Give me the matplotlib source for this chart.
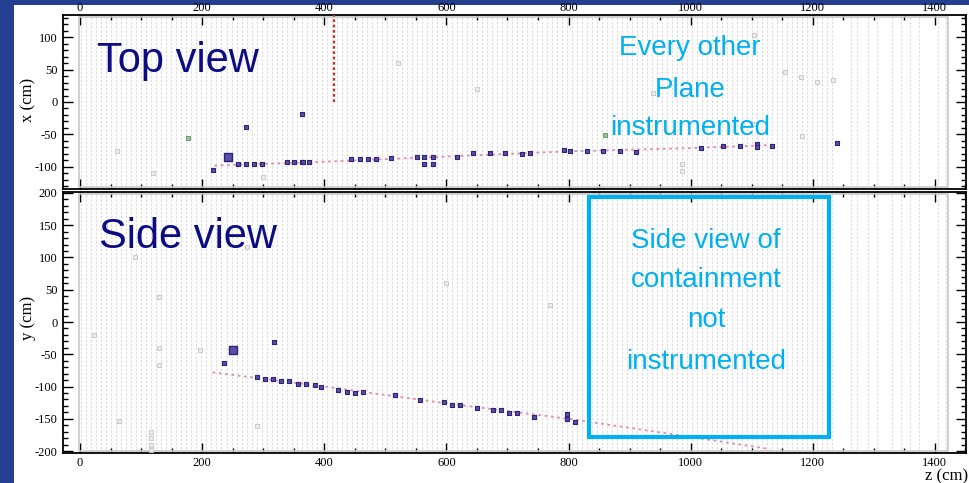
import numpy as np
import matplotlib as mpl
mpl.use('Agg')
import matplotlib.pyplot as plt
from matplotlib.ticker import MultipleLocator
from matplotlib.patches import Rectangle

plt.rcParams['axes.unicode_minus'] = False
plt.rcParams['font.family'] = 'Liberation Serif'

# detector planes (z, cm): dense section then the sparse back end
planes_z = np.arange(2, 1240, 8.2)
back_planes_z = [1262, 1272, 1290, 1305, 1330, 1345, 1360, 1374, 1405, 1419]

# top view track hits (z, x)
top_hit_z = [217, 258, 271, 285, 298, 339, 351, 363, 365, 375, 443, 458, 471, 484, 510,
             551, 564, 578, 564, 578, 617, 644, 671, 696, 724, 737, 792, 803, 831, 857,
             884, 910, 1017, 1053, 1081, 1108, 1108, 1133, 1239, 271, 363]
top_hit_x = [-104, -96, -96, -96, -96, -93, -93, -93, -93, -93, -88, -88, -88, -88, -87,
             -85, -84, -84, -95, -96, -85, -79, -79, -79, -80, -79, -74, -76, -76, -76,
             -76, -77, -71, -68, -68, -65, -70, -68, -63, -39, -18]
top_big_z = [243]
top_big_x = [-84]
top_fit_z = [220, 400, 600, 800, 1000, 1140]
top_fit_x = [-98, -92, -84, -76, -71, -66]
vertex_z = 416
vertex_x = [0, 134]

# side view track hits (z, y)
side_hit_z = [235, 290, 303, 316, 329, 342, 357, 370, 384, 395, 423, 437, 451, 464, 516,
              557, 596, 609, 622, 650, 677, 690, 703, 716, 744, 797, 798, 810, 318]
side_hit_y = [-64, -85, -89, -89, -92, -92, -96, -96, -98, -101, -106, -108, -110, -108, -113,
              -121, -124, -129, -129, -134, -137, -137, -141, -141, -147, -143, -150, -155, -31]
side_big_z = [250]
side_big_y = [-44]
side_fit_z = [217, 400, 600, 800, 1000, 1130]
side_fit_y = [-78, -100, -126, -150, -178, -197]

# stray low-charge hits
top_noise_z = [938, 1155, 1180, 1207, 1233, 1183, 986, 986, 1103, 1103, 300, 120, 60, 520, 650]
top_noise_x = [14, 46, 39, 31, 34, -52, -96, -106, 103, -34, -115, -110, -75, 60, 20]
top_green_z = [177, 859]
top_green_x = [-56, -51]
side_noise_z = [64, 116, 116, 116, 116, 290, 130, 130, 197, 23, 130, 274, 770, 40, 600, 90]
side_noise_y = [-153, -170, -180, -190, -198, -161, -41, -66, -44, -20, 39, 116, 27, 150, 60, 100]

BG_BLUE = '#243f8f'
NAVY = '#0c0c84'
CYAN = '#00b0f0'
HIT_FACE = '#5a4ea6'
HIT_EDGE = '#2c2479'

fig = plt.figure(figsize=(9.69, 4.83), dpi=100)
fig.patch.set_facecolor(BG_BLUE)
fig.patches.append(Rectangle((14 / 969, 0), 1, 1 - 5 / 483, transform=fig.transFigure,
                             facecolor='white', edgecolor='none', zorder=-10))

W, H = 969.0, 483.0
ax_top = fig.add_axes([63 / W, 1 - 189 / H, 903 / W, 174 / H])
ax_side = fig.add_axes([63 / W, 1 - 453 / H, 903 / W, 261 / H])

for ax, ylo, yhi in [(ax_top, -134, 134), (ax_side, -203, 201.5)]:
    ax.set_xlim(-28, 1451)
    ax.set_ylim(ylo, yhi)
    ax.set_facecolor('white')
    for z in list(planes_z) + back_planes_z:
        ax.axvline(z, color='#dedede', lw=0.9, ls=(0, (2, 1.3)), zorder=1)
    ax.add_patch(Rectangle((-2, ylo + 3), 1424, (yhi - ylo) - 6, fill=False,
                           edgecolor='#c8c8c8', lw=1.2, zorder=2))
    ax.xaxis.set_major_locator(MultipleLocator(200))
    ax.xaxis.set_minor_locator(MultipleLocator(50))
    ax.yaxis.set_major_locator(MultipleLocator(50))
    ax.yaxis.set_minor_locator(MultipleLocator(10))
    ax.tick_params(which='both', direction='in', top=True, bottom=True, left=True, right=True,
                   labelsize=9, width=1.0)
    ax.tick_params(which='major', length=7)
    ax.tick_params(which='minor', length=3.5)
    ax.tick_params(axis='y', pad=4)
    for s in ax.spines.values():
        s.set_linewidth(1.3)

ax_top.tick_params(axis='x', labeltop=True, labelbottom=False, pad=1)
ax_side.tick_params(axis='x', labeltop=False, labelbottom=True, pad=3)

# top view
ax_top.scatter(top_noise_z, top_noise_x, marker='s', s=10, facecolor='#ececec',
               edgecolor='#c4c4c4', lw=0.6, zorder=3)
ax_top.scatter(top_green_z, top_green_x, marker='s', s=7, facecolor='#9bbf9b',
               edgecolor='#5f8f5f', lw=0.6, zorder=3)
ax_top.plot(top_fit_z, top_fit_x, color='#e589ad', lw=1.3, ls=(0, (1.5, 2)), zorder=4)
ax_top.plot([vertex_z, vertex_z], vertex_x, color='#d02a2a', lw=1.6, ls=(0, (1.2, 1.2)), zorder=4)
ax_top.scatter(top_hit_z, top_hit_x, marker='s', s=8, facecolor=HIT_FACE,
               edgecolor=HIT_EDGE, lw=0.8, zorder=5)
ax_top.scatter(top_big_z, top_big_x, marker='s', s=40, facecolor=HIT_FACE,
               edgecolor=HIT_EDGE, lw=1.0, zorder=5)

# side view
ax_side.scatter(side_noise_z, side_noise_y, marker='s', s=10, facecolor='#ececec',
                edgecolor='#c4c4c4', lw=0.6, zorder=3)
ax_side.plot(side_fit_z, side_fit_y, color='#e589ad', lw=1.3, ls=(0, (1.5, 2)), zorder=4)
ax_side.scatter(side_hit_z, side_hit_y, marker='s', s=8, facecolor=HIT_FACE,
                edgecolor=HIT_EDGE, lw=0.8, zorder=5)
ax_side.scatter(side_big_z, side_big_y, marker='s', s=40, facecolor=HIT_FACE,
                edgecolor=HIT_EDGE, lw=1.0, zorder=5)

# axis titles
fig.text(28 / W, 1 - 100 / H, 'x (cm)', rotation=90, ha='center', va='center', fontsize=12)
fig.text(28 / W, 1 - 318 / H, 'y (cm)', rotation=90, ha='center', va='center', fontsize=12)
fig.text(968 / W, 1 - 476 / H, 'z (cm)', ha='right', va='center', fontsize=12)

# slide annotations
sans = 'Liberation Sans'
fig.text(97 / W, 1 - 72 / H, 'Top view', ha='left', va='baseline', fontsize=30,
         color=NAVY, family=sans, zorder=10)
fig.text(99 / W, 1 - 248 / H, 'Side view', ha='left', va='baseline', fontsize=30,
         color=NAVY, family=sans, zorder=10)
for txt, yy in [('Every other', 48), ('Plane', 90), ('instrumented', 128)]:
    fig.text(690 / W, 1 - yy / H, txt, ha='center', va='center', fontsize=20,
             color=CYAN, family=sans, zorder=10)
fig.patches.append(Rectangle((589 / W, 1 - 437 / H), 240 / W, 240 / H, transform=fig.transFigure,
                             fill=False, edgecolor=CYAN, lw=3, zorder=10))
for txt, yy in [('Side view of', 241), ('containment', 280), ('not', 320), ('instrumented', 362)]:
    fig.text(706 / W, 1 - yy / H, txt, ha='center', va='center', fontsize=20,
             color=CYAN, family=sans, zorder=10)

fig.savefig('out.png', dpi=100, facecolor=fig.get_facecolor())
